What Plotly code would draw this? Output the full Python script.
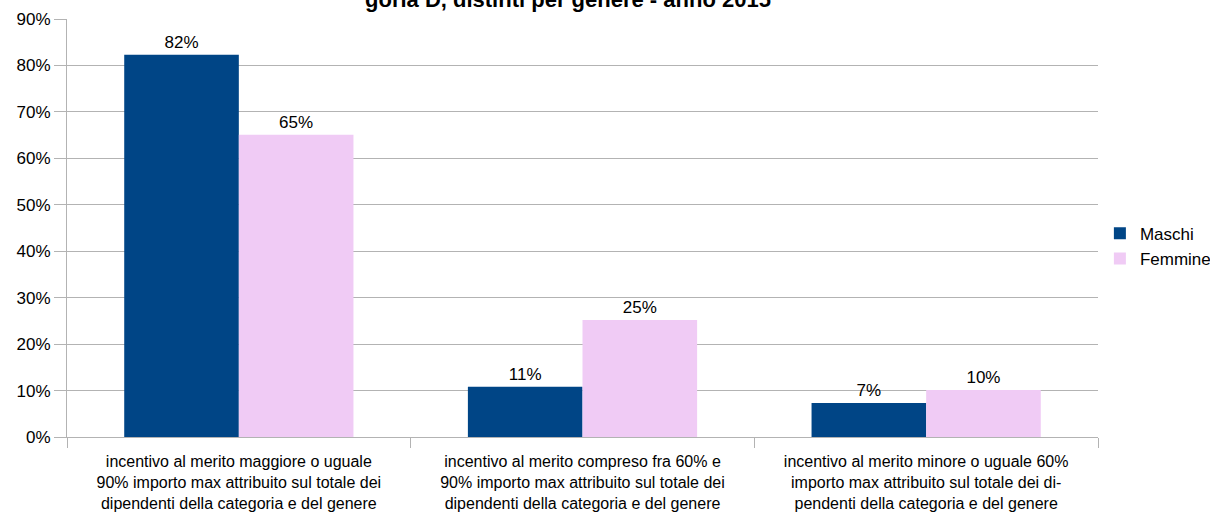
import plotly.graph_objects as go

# categorie e valori (quota sul totale dei dipendenti)
categorie = [
    "incentivo al merito maggiore o uguale<br>90% importo max attribuito sul totale dei<br>dipendenti della categoria e del genere",
    "incentivo al merito compreso fra 60% e<br>90% importo max attribuito sul totale dei<br>dipendenti della categoria e del genere",
    "incentivo al merito minore o uguale 60%<br>importo max attribuito sul totale dei di-<br>pendenti della categoria e del genere",
]
maschi = [0.823, 0.108, 0.073]
femmine = [0.651, 0.252, 0.101]
y_ticks = [0, 0.1, 0.2, 0.3, 0.4, 0.5, 0.6, 0.7, 0.8, 0.9]

FONT = "Liberation Sans, Arial, sans-serif"
FS = 17

fig = go.Figure()
fig.add_trace(go.Bar(
    x=categorie, y=maschi, name="Maschi",
    marker_color="#004586", marker_line_width=0,
    text=[f"{v:.0%}" for v in maschi], textposition="outside",
    textfont=dict(size=FS, color="#000000"), cliponaxis=False,
))
fig.add_trace(go.Bar(
    x=categorie, y=femmine, name="Femmine",
    marker_color="#f0cbf5", marker_line_width=0,
    text=[f"{v:.0%}" for v in femmine], textposition="outside",
    textfont=dict(size=FS, color="#000000"), cliponaxis=False,
))

# titolo tagliato in alto, come nell'originale
fig.add_annotation(
    text="<b>goria D, distinti per genere - anno 2015</b>",
    xref="paper", yref="paper", x=0.486, y=1.047,
    xanchor="center", yanchor="middle", showarrow=False,
    font=dict(size=22, color="#000000", family=FONT),
)

fig.update_layout(
    width=1210, height=513,
    margin=dict(l=67, r=112, t=19, b=76, autoexpand=False),
    paper_bgcolor="white", plot_bgcolor="white",
    font=dict(family=FONT, size=FS, color="#000000"),
    barmode="group", bargap=0.333, bargroupgap=0,
    legend=dict(xref="container", yref="container", x=0.909, y=0.52,
                xanchor="left", yanchor="middle",
                font=dict(size=FS), itemwidth=30, tracegroupgap=0,
                bgcolor="rgba(0,0,0,0)"),
    showlegend=True,
)
fig.update_xaxes(
    showline=True, linecolor="#b3b3b3", linewidth=1,
    ticks="outside", tickson="boundaries", ticklen=10, tickcolor="#b3b3b3",
    tickfont=dict(size=16), ticklabelstandoff=10,
    showgrid=False, automargin=False,
)
fig.update_yaxes(
    range=[0, 0.9], tickvals=y_ticks, tickformat=".0%",
    showline=True, linecolor="#b3b3b3", linewidth=1,
    ticks="outside", ticklen=12, tickcolor="#b3b3b3",
    showgrid=True, gridcolor="#b3b3b3", gridwidth=1, zeroline=False,
    automargin=False,
)

# la pagina ha un margine di 8px: lo azzero perché il grafico parta dall'angolo
fig.write_html(
    "out.html",
    config={"displayModeBar": False},
    post_script="document.body.style.margin='0';",
)
